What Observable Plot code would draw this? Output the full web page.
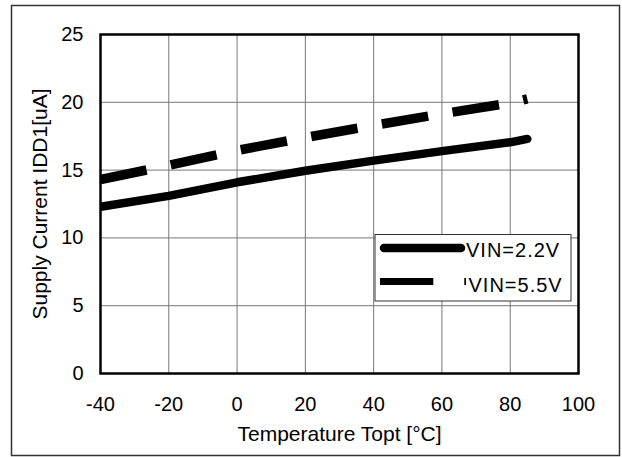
<!DOCTYPE html>
<html>
<head>
<meta charset="utf-8">
<script src="https://cdn.jsdelivr.net/npm/d3@7"></script>
<script src="https://cdn.jsdelivr.net/npm/@observablehq/plot@0.6"></script>
<style>
  html, body { margin: 0; padding: 0; background: white; }
  #chart svg { display: block; overflow: visible; }
</style>
</head>
<body>
<div id="chart"></div>
<script>
// Data
const temperatures = [-40, -20, 0, 20, 40, 60, 80, 85];
const idd_vin22 = [12.3, 13.1, 14.1, 14.95, 15.7, 16.4, 17.05, 17.3];
const idd_vin55 = [14.3, 15.35, 16.45, 17.4, 18.3, 19.15, 19.95, 20.25];
const seriesNames = ["VIN=2.2V", "VIN=5.5V"];
const xTicks = [-40, -20, 0, 20, 40, 60, 80, 100];
const yTicks = [0, 5, 10, 15, 20, 25];
const xLabel = "Temperature Topt [°C]";
const yLabel = "Supply Current IDD1[uA]";

const rows22 = temperatures.map((t, i) => ({t, v: idd_vin22[i]}));
const rows55 = temperatures.map((t, i) => ({t, v: idd_vin55[i]}));

const FONT = "'Liberation Sans', Arial, sans-serif";

const plot = Plot.plot({
  width: 622,
  height: 457,
  marginLeft: 100,
  marginRight: 44,
  marginTop: 34,
  marginBottom: 84,
  style: {background: "white", fontFamily: FONT, fontSize: "20px", color: "black", overflow: "visible"},
  x: {domain: [-40, 100], ticks: xTicks, label: null},
  y: {domain: [0, 25], ticks: yTicks, label: null},
  marks: [
    Plot.frame({stroke: "#333", strokeWidth: 1.5, insetLeft: -89, insetRight: -41, insetTop: -29, insetBottom: -82}),
    Plot.gridX(xTicks, {stroke: "#777", strokeOpacity: 1, strokeWidth: 1}),
    Plot.gridY(yTicks, {stroke: "#777", strokeOpacity: 1, strokeWidth: 1}),
    Plot.axisX(xTicks, {tickSize: 0, tickPadding: 23, fontSize: 20, label: null, tickFormat: d => String(d)}),
    Plot.axisY(yTicks, {tickSize: 0, tickPadding: 17, fontSize: 20, label: null, tickFormat: d => String(d)}),
    Plot.line(rows22, {x: "t", y: "v", stroke: "black", strokeWidth: 8.5, strokeLinecap: "round", strokeLinejoin: "round", clip: true}),
    Plot.line(rows55, {x: "t", y: "v", stroke: "black", strokeWidth: 9.5, strokeLinecap: "butt", strokeDasharray: "47 24.7", clip: true}),
    Plot.frame({stroke: "black", strokeWidth: 2.5}),
    Plot.text([xLabel], {text: d => d, frameAnchor: "bottom", dy: 61, lineAnchor: "middle", fontSize: 21, fill: "black"}),
    Plot.text([yLabel], {text: d => d, frameAnchor: "left", dx: -60, rotate: -90, lineAnchor: "middle", textAnchor: "middle", fontSize: 21, fill: "black"})
  ]
});

document.getElementById("chart").appendChild(plot);

// Legend (inside the plot area, lower right)
const svg = d3.select(plot);
const lg = svg.append("g").attr("font-family", FONT).attr("font-size", 20).attr("text-anchor", "start");
lg.append("rect").attr("x", 375).attr("y", 234.5).attr("width", 196).attr("height", 66.5)
  .attr("fill", "white").attr("stroke", "#333").attr("stroke-width", 1);
lg.append("line").attr("x1", 384).attr("x2", 461).attr("y1", 248).attr("y2", 248)
  .attr("stroke", "black").attr("stroke-width", 8.5).attr("stroke-linecap", "round");
lg.append("text").attr("x", 466).attr("y", 256.5).attr("text-anchor", "start").attr("letter-spacing", 1).attr("fill", "black").text(seriesNames[0]);
lg.append("line").attr("x1", 380).attr("x2", 466).attr("y1", 281.5).attr("y2", 281.5)
  .attr("stroke", "black").attr("stroke-width", 7).attr("stroke-dasharray", "53.3 31");
lg.append("text").attr("x", 468.5).attr("y", 291.5).attr("text-anchor", "start").attr("letter-spacing", 1).attr("fill", "black").text(seriesNames[1]);
</script>
</body>
</html>
